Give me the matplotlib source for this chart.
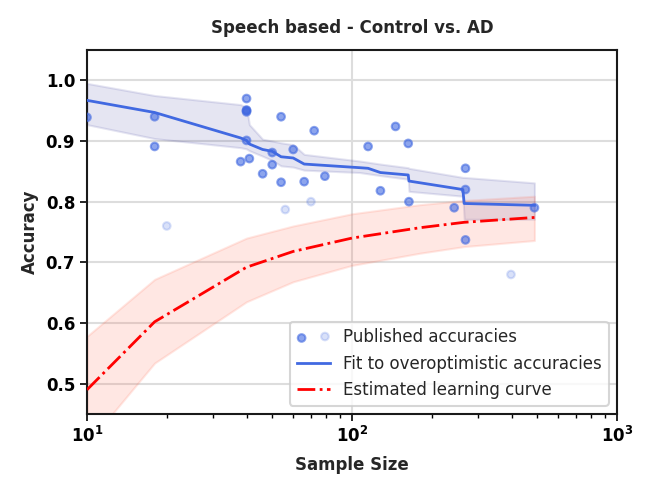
import matplotlib
matplotlib.use('Agg')
import matplotlib.pyplot as plt
from matplotlib.colors import to_rgba
import numpy as np

# published accuracies (first entry dark, second light -> legend shows both)
pub_n = [10, 20, 18, 18, 40, 40, 40, 40, 40, 38, 41, 46, 50, 50, 54, 54, 60,
         66, 72, 79, 56, 70, 115, 128, 146, 163, 164, 243, 268, 268, 268, 488, 398]
pub_acc = [0.939, 0.76, 0.94, 0.891, 0.97, 0.95, 0.948, 0.951, 0.901, 0.866, 0.871,
           0.846, 0.881, 0.861, 0.94, 0.832, 0.886, 0.833, 0.917, 0.842, 0.787, 0.80,
           0.891, 0.818, 0.924, 0.896, 0.80, 0.79, 0.855, 0.82, 0.737, 0.79, 0.68]
pub_light = [0, 1, 0, 0, 0, 0, 0, 0, 0, 0, 0, 0, 0, 0, 0, 0, 0, 0, 0, 0, 1, 1,
             0, 0, 0, 0, 0, 0, 0, 0, 0, 0, 1]

# fit to overoptimistic accuracies
fit_n = [10, 18, 38, 40, 41, 46, 50, 54, 60, 66, 107, 115, 128, 163, 164, 262, 265, 488]
fit_acc = [0.967, 0.947, 0.905, 0.901, 0.895, 0.886, 0.883, 0.874, 0.872, 0.862,
           0.856, 0.855, 0.848, 0.844, 0.834, 0.82, 0.797, 0.794]
fit_hi = [0.995, 0.975, 0.96, 0.955, 0.927, 0.903, 0.9, 0.897, 0.894, 0.878,
          0.867, 0.865, 0.862, 0.856, 0.855, 0.84, 0.84, 0.831]
fit_lo = [0.927, 0.904, 0.889, 0.887, 0.884, 0.875, 0.868, 0.859, 0.857, 0.852,
          0.848, 0.846, 0.843, 0.837, 0.817, 0.809, 0.771, 0.771]

# estimated learning curve
lc_n = [10, 18, 40, 60, 100, 180, 265, 488]
lc_acc = [0.49, 0.602, 0.692, 0.718, 0.74, 0.757, 0.766, 0.774]
lc_hi = [0.578, 0.672, 0.74, 0.76, 0.78, 0.795, 0.802, 0.809]
lc_lo = [0.40, 0.534, 0.635, 0.668, 0.695, 0.715, 0.726, 0.736]

colors = [to_rgba('royalblue', 0.2 if l else 0.6) for l in pub_light]

fig = plt.figure(figsize=(6.53, 4.94), dpi=100)
ax = fig.add_axes([0.1332, 0.1619, 0.8117, 0.7369])

ax.grid(True, which='major', color='#dddddd', linewidth=1.5)
ax.set_axisbelow(True)

ax.fill_between(fit_n, fit_lo, fit_hi, color='navy', alpha=0.1, linewidth=1.5)
ax.fill_between(lc_n, lc_lo, lc_hi, color='tomato', alpha=0.15, linewidth=1.5)

ax.scatter(pub_n, pub_acc, s=30, c=colors, edgecolors=colors, linewidths=1.5,
           label='Published accuracies', zorder=3)
ax.plot(fit_n, fit_acc, color='royalblue', linewidth=2,
        label='Fit to overoptimistic accuracies', zorder=4)
ax.plot(lc_n, lc_acc, color='red', linestyle='-.', linewidth=2,
        label='Estimated learning curve', zorder=4)

ax.set_xscale('log')
ax.set_xlim(10, 1000)
ax.set_ylim(0.45, 1.05)
ax.set_yticks([0.5, 0.6, 0.7, 0.8, 0.9, 1.0])

for s in ax.spines.values():
    s.set_linewidth(1.5)
    s.set_color('#1a1a1a')
ax.tick_params(axis='both', which='major', labelsize=12, width=1.2, length=5)
ax.tick_params(axis='x', which='minor', width=1, length=3)
for lab in ax.get_xticklabels() + ax.get_yticklabels():
    lab.set_fontweight('bold')

ax.set_xlabel('Sample Size', fontsize=12, fontweight='bold', color='#262626', labelpad=7)
ax.set_ylabel('Accuracy', fontsize=12, fontweight='bold', color='#262626', labelpad=5)
ax.set_title('Speech based - Control vs. AD', fontsize=12, fontweight='bold',
             color='#262626', pad=12)

leg = ax.legend(loc='lower right', fontsize=12, scatterpoints=2, framealpha=0.8,
                borderaxespad=0.5)
for t in leg.get_texts():
    t.set_color('#262626')
leg.get_frame().set_linewidth(1.5)

fig.savefig('out.png', dpi=100)
